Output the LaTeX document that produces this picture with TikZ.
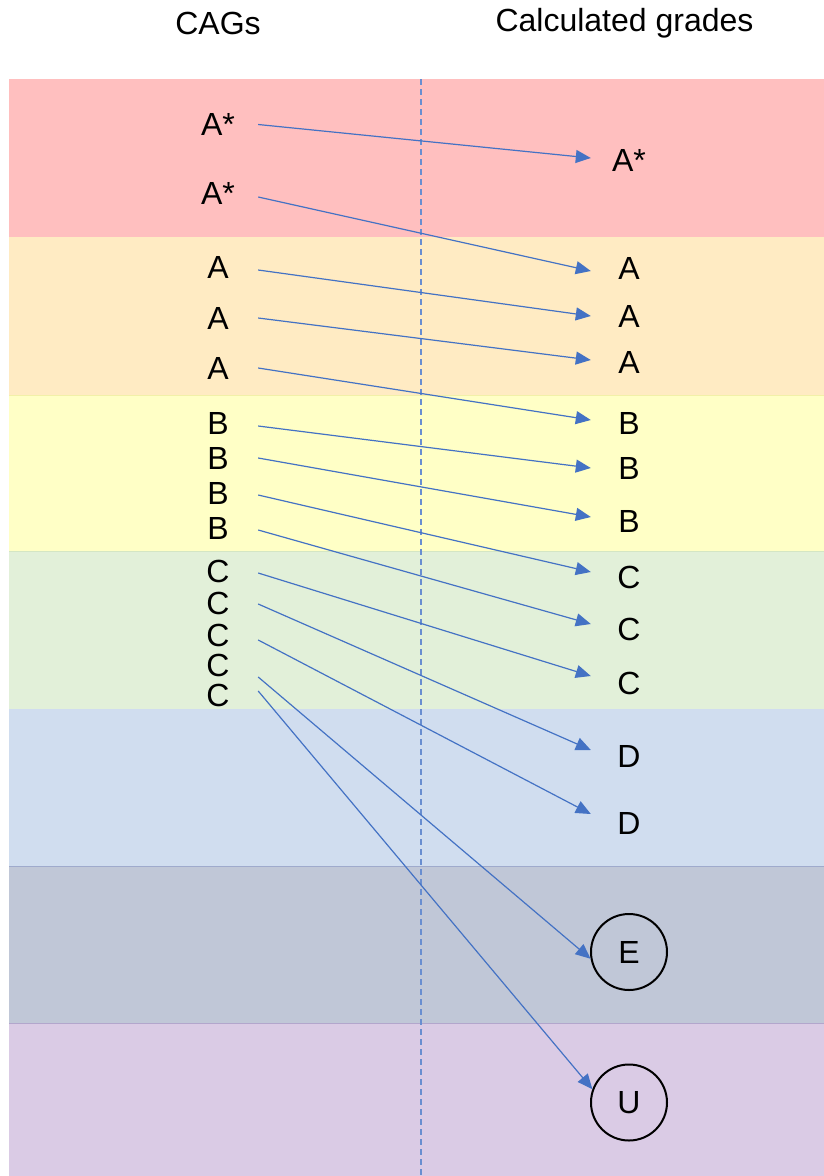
\documentclass[tikz,border=0pt]{standalone}
\usepackage{fontspec}
\setmainfont{Liberation Sans}
\usetikzlibrary{arrows.meta}
\definecolor{bandA}{HTML}{FFBFBF}
\definecolor{bandB}{HTML}{FFEBC3}
\definecolor{bandC}{HTML}{FFFFC6}
\definecolor{bandD}{HTML}{E2F0D9}
\definecolor{bandE}{HTML}{D0DDEF}
\definecolor{bandF}{HTML}{C0C7D7}
\definecolor{bandG}{HTML}{DACBE5}
\definecolor{edgeC}{HTML}{F2F0A8}
\definecolor{edgeD}{HTML}{D4E6C4}
\definecolor{edgeE}{HTML}{9FAACC}
\definecolor{edgeG}{HTML}{B2A6CC}
\definecolor{arrowblue}{HTML}{4472C4}
\tikzset{
  grade/.style={font=\fontsize{32}{38}\selectfont, inner sep=0pt},
  cag/.style={grade, minimum width=80pt},
  calc/.style={grade, minimum width=76pt},
  ringed/.style={grade, circle, draw=black, line width=2pt, minimum size=76pt},
  arr/.style={draw=arrowblue, line width=1.2pt, -{Triangle[length=15pt,width=13pt]}},
  divider/.style={draw=arrowblue!80, line width=1.3pt, dash pattern=on 6pt off 4pt},
}
\begin{document}
\begin{tikzpicture}[x=1pt,y=-1pt]
\useasboundingbox (0,0) rectangle (824,1176);
\fill[white] (0,0) rectangle (824,1176);
% grade bands
\fill[bandA] (9,79) rectangle (824,237);
\fill[bandB] (9,237) rectangle (824,395);
\fill[bandC] (9,395) rectangle (824,551);
\fill[bandD] (9,551) rectangle (824,709);
\fill[bandE] (9,709) rectangle (824,866);
\fill[bandF] (9,866) rectangle (824,1023);
\fill[bandG] (9,1023) rectangle (824,1176);
\draw[edgeC, line width=0.8pt] (9,395) -- (824,395);
\draw[edgeD, line width=0.8pt] (9,551) -- (824,551);
\draw[edgeE, line width=1pt] (9,866) -- (824,866);
\draw[edgeG, line width=1pt] (9,1023) -- (824,1023);
% centre divider
\draw[divider] (421,79) -- (421,1176);
% column headings
\node[grade] (h1) at (218,23) {CAGs};
\node[grade] (h2) at (624.5,23) {Calculated grades};
% centre assessed grades
\node[cag] (l1) at (218,124.5) {A*};
\node[cag] (l2) at (218,193) {A*};
\node[cag] (l3) at (218,267) {A};
\node[cag] (l4) at (218,318) {A};
\node[cag] (l5) at (218,368) {A};
\node[cag] (l6) at (218,423) {B};
\node[cag] (l7) at (218,458) {B};
\node[cag] (l8) at (218,493) {B};
\node[cag] (l9) at (218,528) {B};
\node[cag] (l10) at (218,571.5) {C};
\node[cag] (l11) at (218,603) {C};
\node[cag] (l12) at (218,635) {C};
\node[cag] (l13) at (218,665) {C};
\node[cag] (l14) at (218,695) {C};
% calculated grades
\node[calc] (r1) at (629,160) {A*};
\node[calc] (r2) at (629,268) {A};
\node[calc] (r3) at (629,316) {A};
\node[calc] (r4) at (629,362) {A};
\node[calc] (r5) at (629,423) {B};
\node[calc] (r6) at (629,468) {B};
\node[calc] (r7) at (629,521) {B};
\node[calc] (r8) at (629,577) {C};
\node[calc] (r9) at (629,629) {C};
\node[calc] (r10) at (629,683) {C};
\node[calc] (r11) at (629,756) {D};
\node[calc] (r12) at (629,823) {D};
\node[ringed] (r13) at (629,952) {E};
\node[ringed] (r14) at (629,1102.5) {U};
% grade movements
\draw[arr] (l1.east) -- ([yshift=2pt]r1.west);
\draw[arr] ([yshift=-4pt]l2.east) -- ([yshift=-3pt]r2.west);
\draw[arr] ([yshift=-3pt]l3.east) -- (r3.west);
\draw[arr] (l4.east) -- ([yshift=2pt]r4.west);
\draw[arr] (l5.east) -- ([yshift=3pt]r5.west);
\draw[arr] ([yshift=-3pt]l6.east) -- (r6.west);
\draw[arr] (l7.east) -- ([yshift=4pt]r7.west);
\draw[arr] ([yshift=-2pt]l8.east) -- ([yshift=5pt]r8.west);
\draw[arr] ([yshift=-2pt]l9.east) -- ([yshift=5pt]r9.west);
\draw[arr] ([yshift=-1.5pt]l10.east) -- ([yshift=7pt]r10.west);
\draw[arr] ([yshift=-1pt]l11.east) -- ([yshift=6pt]r11.west);
\draw[arr] ([yshift=-5pt]l12.east) -- ([yshift=9pt]r12.west);
\draw[arr] ([yshift=-12pt]l13.east) -- (r13.190);
\draw[arr] ([yshift=4pt]l14.east) -- (r14.160);
\end{tikzpicture}
\end{document}
